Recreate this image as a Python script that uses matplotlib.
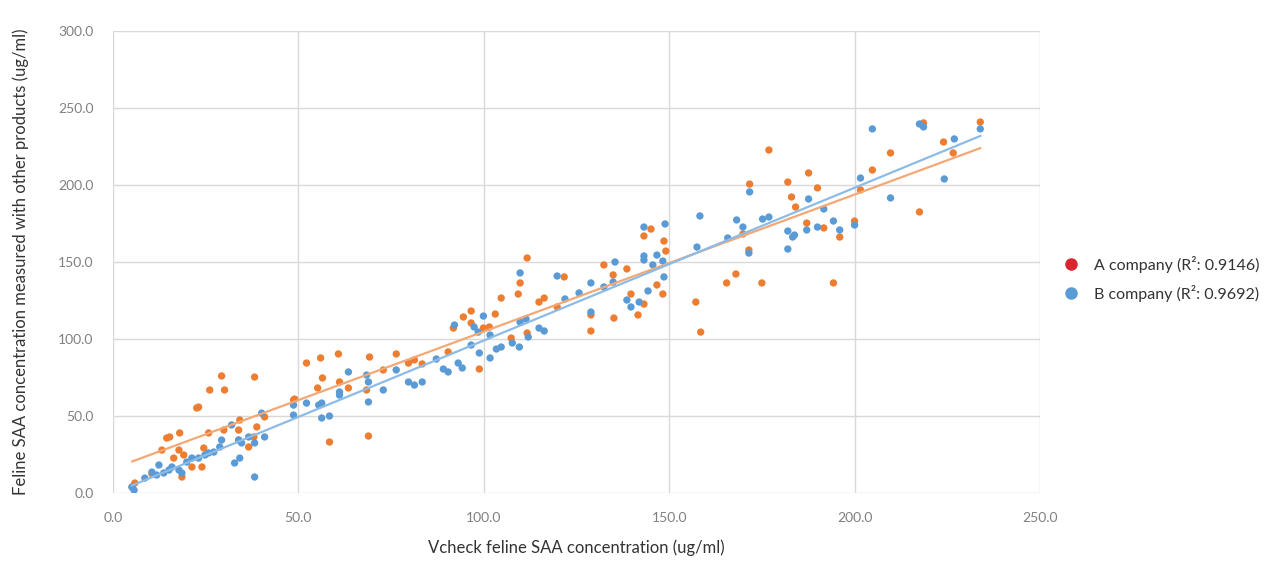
import numpy as np
import matplotlib
matplotlib.use("Agg")
import matplotlib.pyplot as plt
from matplotlib.lines import Line2D
from matplotlib.ticker import FormatStrFormatter, MultipleLocator

# A company (orange) - Vcheck value vs. other product
a_x = [5.2, 5.9, 10.5, 13.2, 14.5, 15.3, 16.4, 17.8, 18.0, 18.6, 19.1, 21.3, 22.6, 23.1,
       24.0, 24.5, 25.8, 26.1, 29.3, 29.9, 30.1, 33.9, 33.9, 34.2, 36.6, 38.0, 38.2, 38.8,
       40.9, 48.7, 49.0, 52.2, 55.2, 56.0, 56.5, 58.4, 60.8, 61.1, 63.5, 68.4, 68.9, 69.2,
       72.9, 76.4, 79.7, 81.3, 83.4, 90.4, 91.8, 94.5, 96.6, 96.6, 98.8, 99.9, 101.5, 103.1,
       104.7, 107.4, 109.3, 109.8, 111.7, 111.7, 114.9, 116.3, 119.8, 121.7, 128.9, 128.9,
       132.4, 134.9, 135.1, 138.6, 139.7, 141.6, 143.2, 143.2, 145.1, 146.7, 148.3, 148.6,
       149.1, 157.2, 158.5, 165.5, 168.0, 169.9, 171.5, 171.7, 175.0, 176.9, 182.0, 183.0,
       184.1, 187.1, 187.6, 190.0, 191.7, 194.3, 196.0, 200.0, 201.6, 204.8, 209.7, 217.5,
       218.6, 224.0, 226.6, 233.9]
a_y = [4.0, 6.5, 12.5, 27.9, 35.7, 36.4, 22.7, 27.9, 39.0, 10.4, 24.7, 16.9, 55.2, 55.8,
       16.9, 29.2, 39.0, 66.9, 76.0, 40.9, 66.9, 40.9, 34.4, 47.4, 29.9, 36.4, 75.3, 42.9,
       49.4, 60.4, 61.0, 84.4, 68.2, 87.7, 74.7, 33.1, 90.3, 72.1, 68.2, 66.9, 37.0, 88.3,
       79.9, 90.3, 84.4, 86.4, 83.8, 91.6, 107.1, 114.3, 118.2, 110.4, 80.5, 107.1, 107.8, 116.2,
       126.6, 100.6, 129.2, 136.4, 152.6, 103.9, 124.0, 126.6, 120.8, 140.3, 115.6, 105.2,
       148.1, 141.6, 113.6, 145.5, 129.2, 115.6, 166.9, 122.7, 171.4, 135.1, 129.2, 163.6,
       157.1, 124.0, 104.5, 136.4, 142.2, 168.2, 157.8, 200.6, 136.4, 222.7, 201.9, 192.2,
       185.7, 175.3, 207.8, 198.1, 172.1, 136.4, 166.2, 176.6, 196.8, 209.7, 220.8, 182.5,
       240.3, 227.9, 220.8, 240.9]

# B company (blue)
b_x = [5.1, 5.7, 8.6, 10.5, 11.8, 12.4, 13.7, 15.1, 15.9, 17.8, 18.6, 19.9, 21.3, 23.1,
       24.8, 25.8, 27.2, 28.8, 29.3, 32.0, 32.8, 33.9, 34.2, 34.7, 36.6, 38.2, 38.2, 40.1,
       40.9, 48.7, 48.7, 52.2, 55.5, 56.3, 56.3, 58.4, 61.1, 61.1, 63.5, 68.4, 68.9, 68.9,
       72.9, 76.4, 79.7, 81.3, 83.4, 87.2, 89.1, 90.4, 92.1, 93.1, 94.2, 96.6, 97.4, 98.5,
       98.8, 99.9, 101.7, 101.7, 103.4, 104.7, 107.7, 109.6, 109.8, 109.8, 111.4, 112.0,
       114.9, 116.3, 119.8, 121.9, 125.7, 128.9, 128.9, 132.4, 134.9, 135.4, 138.6, 139.7,
       141.9, 143.2, 143.2, 143.2, 144.3, 145.6, 146.7, 148.3, 148.6, 148.9, 157.5, 158.3,
       165.8, 168.2, 169.9, 171.5, 171.7, 175.2, 176.9, 182.0, 182.0, 183.3, 183.8, 187.1,
       187.6, 190.0, 191.7, 194.3, 196.0, 200.0, 201.6, 204.8, 209.7, 217.5, 218.6, 224.2,
       226.9, 233.9]
b_y = [3.9, 1.9, 9.7, 13.6, 11.7, 18.2, 13.0, 14.9, 16.9, 14.9, 13.0, 20.1, 22.7, 22.7,
       24.7, 26.0, 26.6, 29.9, 34.4, 44.2, 19.5, 34.4, 22.7, 32.5, 36.4, 10.4, 32.5, 51.9,
       36.4, 57.1, 50.6, 58.4, 57.1, 58.4, 48.7, 50.0, 65.6, 63.6, 78.6, 76.6, 72.1, 59.1,
       66.9, 79.9, 72.1, 70.1, 72.1, 87.0, 80.5, 78.6, 109.1, 84.4, 81.2, 96.1, 107.8, 104.5,
       90.9, 114.9, 102.6, 87.7, 93.5, 94.8, 97.4, 94.8, 142.9, 111.0, 113.0, 101.3,
       107.1, 105.2, 140.9, 126.0, 129.9, 136.4, 117.5, 133.8, 137.0, 150.0, 125.3, 120.8,
       124.0, 172.7, 153.9, 151.3, 131.2, 148.1, 154.5, 150.6, 140.3, 174.7, 159.7, 179.9,
       165.6, 177.3, 172.7, 155.8, 195.5, 177.9, 179.2, 170.1, 158.4, 166.2, 167.5, 170.8,
       190.9, 172.7, 184.4, 176.6, 170.8, 174.0, 204.5, 236.4, 191.6, 239.6, 237.7, 203.9,
       229.9, 236.4]

a_label = "A company (R\u00b2: 0.9146)"
b_label = "B company (R\u00b2: 0.9692)"

orange = "#ed7d31"
blue = "#5b9bd5"

plt.rcParams['font.family'] = ['Lato', 'DejaVu Sans']

fig = plt.figure(figsize=(12.82, 5.63), dpi=100)
ax = fig.add_axes([0.0881, 0.1243, 0.7231, 0.8207])

ax.scatter(a_x, a_y, s=28, color=orange, edgecolors='none', zorder=3)
ax.scatter(b_x, b_y, s=28, color=blue, edgecolors='none', zorder=4)

# linear trend lines
for xs, ys, c in [(a_x, a_y, "#f4a876"), (b_x, b_y, "#8cbbe6")]:
    k, m = np.polyfit(xs, ys, 1)
    xx = np.array([min(xs), max(xs)])
    ax.plot(xx, k * xx + m, color=c, lw=1.6, zorder=5)

ax.set_xlim(0, 250)
ax.set_ylim(0, 300)
ax.xaxis.set_major_locator(MultipleLocator(50))
ax.yaxis.set_major_locator(MultipleLocator(50))
ax.xaxis.set_major_formatter(FormatStrFormatter('%.1f'))
ax.yaxis.set_major_formatter(FormatStrFormatter('%.1f'))
ax.grid(True, color='#d9d9d9', lw=1)
ax.set_axisbelow(True)
for s in ax.spines.values():
    s.set_visible(False)
ax.tick_params(length=0, labelsize=10, labelcolor='#808080')
ax.tick_params(axis='y', pad=14)
ax.tick_params(axis='x', pad=14)

ax.set_xlabel("Vcheck feline SAA concentration (ug/ml)", fontsize=12, color='#333333', labelpad=11)
ax.set_ylabel("Feline SAA concentration measured with other products (ug/ml)",
              fontsize=12, color='#333333', labelpad=21)

handles = [Line2D([], [], ls='none', marker='o', ms=8, color='#d9262e'),
           Line2D([], [], ls='none', marker='o', ms=8, color=blue)]
fig.legend(handles, [a_label, b_label], loc='center left', bbox_to_anchor=(0.812, 0.505),
           frameon=False, fontsize=11.5, handletextpad=0.4, labelspacing=0.75,
           labelcolor='#333333')

fig.savefig("out.png", dpi=100)
